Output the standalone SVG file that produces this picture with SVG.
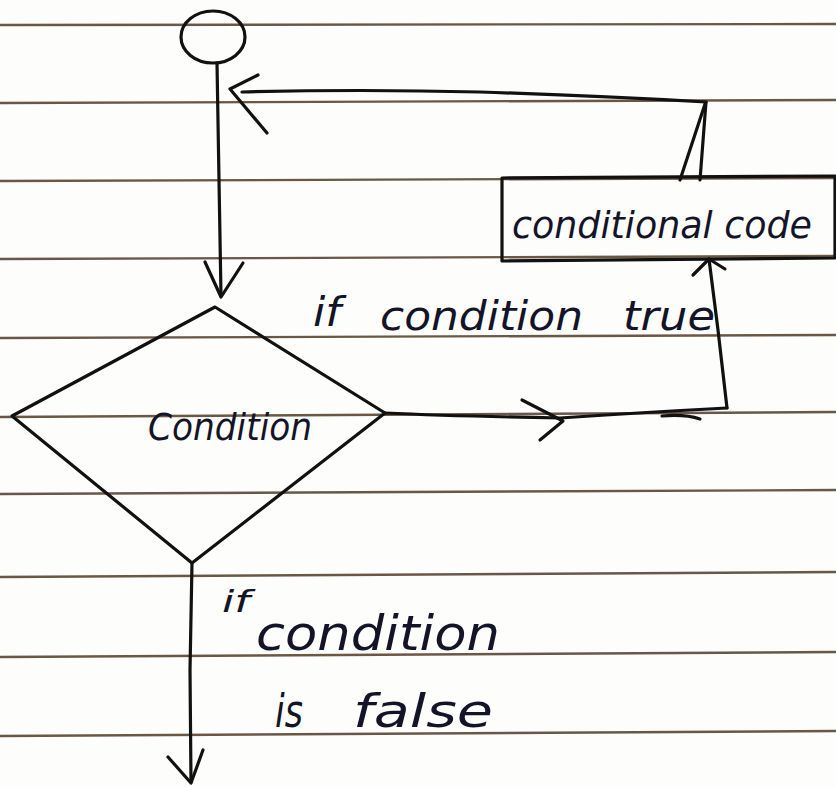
<svg xmlns="http://www.w3.org/2000/svg" width="836" height="787" viewBox="0 0 836 787">
  <style>
    .rule { stroke: #6b5746; stroke-width: 2.4; fill: none; }
    .ink { stroke: #111; stroke-width: 3.2; fill: none; stroke-linecap: round; stroke-linejoin: round; }
    .hand { font-family: "DejaVu Sans", "Liberation Sans", sans-serif; font-style: italic; fill: #141428; }
  </style>

  <!-- ruled notebook paper -->
  <rect width="836" height="787" fill="#fdfdfb"/>
  <g id="paper-lines">
    <path class="rule" d="M0 25 L836 24"/>
    <path class="rule" d="M0 103 L836 100"/>
    <path class="rule" d="M0 181 L836 178"/>
    <path class="rule" d="M0 259 L836 256"/>
    <path class="rule" d="M0 338 L836 335"/>
    <path class="rule" d="M0 417 L836 412"/>
    <path class="rule" d="M0 494 L836 490"/>
    <path class="rule" d="M0 577 L836 572"/>
    <path class="rule" d="M0 657 L836 652"/>
    <path class="rule" d="M0 736 L836 731"/>
  </g>

  <!-- start terminal -->
  <g id="start">
    <ellipse class="ink" cx="213" cy="37" rx="32" ry="26" stroke-width="3.8"/>
  </g>

  <!-- decision -->
  <g id="condition">
    <path class="ink" d="M215 307 L385 413 L192 563 L12 416 Z"/>
    <text class="hand" x="148" y="440" font-size="38" textLength="164" lengthAdjust="spacingAndGlyphs">Condition</text>
  </g>

  <!-- process box -->
  <g id="conditional-code">
    <path class="ink" d="M502 178 L835 176 L835 258 L502 261 Z"/>
    <text class="hand" x="512" y="238" font-size="38" textLength="300" lengthAdjust="spacingAndGlyphs">conditional code</text>
  </g>

  <!-- connectors -->
  <g id="connectors">
    <!-- start to decision -->
    <path class="ink" d="M217 63 L219 180 L221 296"/>
    <path class="ink" d="M205 262 L221 297 L243 263"/>

    <!-- true branch -->
    <path class="ink" d="M385 413 Q450 416 560 418 Q650 412 727 408"/>
    <path class="ink" d="M522 400 L563 421 L540 440"/>
    <path class="ink" d="M662 416 Q685 414 700 419"/>
    <path class="ink" d="M727 408 L718 330 L709 259"/>
    <path class="ink" d="M693 275 L709 259 L725 269"/>

    <!-- loop back to start -->
    <path class="ink" d="M700 180 L706 102"/>
    <path class="ink" d="M680 180 L705 104"/>
    <path class="ink" d="M706 102 Q600 96 480 92 Q360 89 242 92"/>
    <path class="ink" d="M258 75 L230 89 L267 133"/>

    <!-- false branch -->
    <path class="ink" d="M192 563 L190 670 L191 782"/>
    <path class="ink" d="M168 757 L191 783 L203 750"/>
  </g>

  <!-- branch labels -->
  <g id="label-true">
    <text class="hand" x="313" y="326" font-size="40" textLength="28" lengthAdjust="spacingAndGlyphs">if</text>
    <text class="hand" x="380" y="330" font-size="40" textLength="203" lengthAdjust="spacingAndGlyphs">condition</text>
    <text class="hand" x="623" y="330" font-size="40" textLength="92" lengthAdjust="spacingAndGlyphs">true</text>
  </g>
  <g id="label-false">
    <text class="hand" x="222" y="612" font-size="30" textLength="28" lengthAdjust="spacingAndGlyphs">if</text>
    <text class="hand" x="256" y="650" font-size="48" textLength="244" lengthAdjust="spacingAndGlyphs">condition</text>
    <text class="hand" x="275" y="727" font-size="46" textLength="28" lengthAdjust="spacingAndGlyphs">is</text>
    <text class="hand" x="353" y="727" font-size="46" textLength="140" lengthAdjust="spacingAndGlyphs">false</text>
  </g>
</svg>
